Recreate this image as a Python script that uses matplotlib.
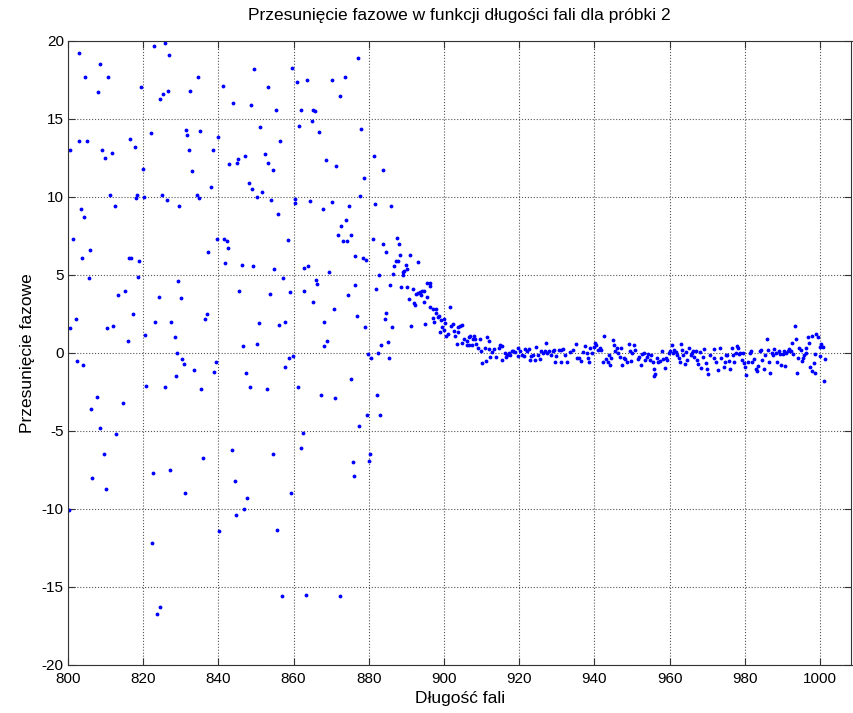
import matplotlib
matplotlib.use("Agg")
import matplotlib.pyplot as plt

# wavelength [nm] and phase shift
wavelength = [
    800.5, 801.2, 802.9, 802.8, 803.4, 804.2, 804.5, 805.0, 805.8, 807.9,
    808.4, 809.0, 809.9, 810.7, 811.3, 811.7, 812.6, 816.5, 817.7, 818.0,
    818.4, 819.4, 820.0, 820.3, 822.2, 823.0, 824.4, 825.3, 825.9, 826.6,
    826.9, 825.1, 826.4, 829.5, 831.4, 831.6, 832.1, 832.4, 833.0, 834.2,
    834.8, 834.5, 835.1, 838.0, 838.5, 839.6, 840.0, 841.1, 841.4, 842.4,
    842.6, 842.9, 843.8, 845.0, 845.3,
    803.6, 805.6, 802.1, 800.4, 802.3, 804.1, 807.7, 806.2, 808.5, 809.6,
    812.8, 814.7, 810.5, 811.9, 813.3, 815.1, 815.9, 817.4, 816.2, 816.7,
    818.9, 818.7, 820.4, 820.8, 823.1, 824.3, 825.7, 827.5, 828.5, 828.8,
    828.9, 829.3, 830.0, 830.2, 830.8, 833.6, 835.3, 835.9, 836.5, 836.9,
    837.2, 838.8, 839.3, 841.7, 843.6, 845.6,
    806.4, 810.0, 800.2, 822.6, 827.2, 831.2, 822.3, 824.6, 823.6, 840.2,
    844.4, 844.6,
    849.5, 848.7, 853.2, 855.2, 859.7, 860.8, 863.6, 861.9, 865.1, 865.7,
    864.8, 870.3, 873.8, 877.2, 872.4, 851.0, 856.4, 861.4, 866.8, 878.0,
    847.1, 852.3, 853.3, 854.4, 848.1, 849.0, 851.6, 850.2, 854.0, 855.9,
    858.5, 860.3, 860.5, 864.4, 867.7, 870.1, 868.6, 871.2, 874.8, 874.0,
    872.7, 871.8, 873.2, 874.1, 875.4, 877.8, 878.7, 881.4, 883.7, 881.6,
    886.0, 881.0, 883.9, 887.6, 888.0,
    846.4, 849.2, 854.8, 857.3, 862.9, 863.9, 869.5, 853.8, 859.0, 862.7,
    865.9, 866.3, 865.2, 870.8, 874.6, 876.3, 876.4, 878.4, 879.2, 876.9,
    879.0, 868.0, 850.8, 856.1, 857.8, 868.8, 868.2, 846.6, 850.4, 859.9,
    858.8, 857.6, 847.3, 848.3, 853.0, 861.2, 867.3, 871.0, 875.2, 879.7,
    880.7, 882.5, 885.4, 883.3, 885.2, 882.2, 883.1, 879.5, 877.5, 862.5,
    862.0, 854.6, 880.4,
    884.5, 888.4, 890.9, 893.2, 887.7, 887.2, 886.8, 889.9, 890.3, 889.4,
    889.1, 889.2, 886.4, 882.8, 885.6, 881.8, 888.6, 890.1, 891.7, 893.0,
    894.1, 894.8, 893.5, 892.6, 893.8, 895.6, 896.2, 896.4, 895.4, 894.6,
    890.8, 892.1, 892.4, 896.3, 884.7, 884.2, 886.3, 891.3, 894.9,
    880.0, 875.7, 876.1, 847.6, 846.7, 859.2, 855.5, 856.8, 863.4, 872.3,
    897.0, 898.0, 897.8, 898.3, 897.1, 898.6, 897.3, 899.2, 900.1, 900.3,
    898.9, 899.6, 899.9, 901.0, 900.5, 901.6, 901.9, 902.5, 902.8, 903.0,
    903.7, 904.3, 904.9, 903.8, 903.4, 904.8, 905.4, 906.0, 906.6, 907.0,
    906.0, 906.7, 907.4, 907.6, 908.2, 908.0, 908.5, 909.6, 909.0, 909.9,
    910.8, 910.0, 911.3, 911.5, 912.0, 912.1, 912.3, 912.8, 913.2, 913.9,
    914.7, 915.0, 915.4, 915.4, 916.3, 916.8, 917.2, 916.6, 917.6, 918.1,
    918.4, 918.9, 919.6, 919.7, 920.3, 920.7, 921.3, 921.6, 922.1, 922.6,
    922.8, 923.2, 923.7, 924.1, 924.6, 925.0, 925.5, 925.9, 926.4, 926.8,
    927.2, 927.5, 927.9, 928.4, 928.9, 929.4, 929.6, 929.9, 930.5, 931.0,
    931.2, 931.6, 932.1, 932.6, 933.4,
    934.4, 935.0, 935.4, 936.0, 936.5, 937.0, 937.6, 938.0, 938.2, 938.7,
    938.9, 939.4, 939.8, 940.1, 940.5, 941.0, 941.5, 941.9, 942.4, 942.7,
    943.0, 943.5, 944.1, 943.9, 944.5, 944.9, 945.2, 945.4, 945.9, 946.3,
    946.8, 947.1, 947.4, 947.8, 948.2, 948.7, 949.1, 949.6, 949.7, 950.1,
    950.5, 950.9, 951.6, 951.9, 952.3, 952.6, 953.2, 953.5, 954.0, 954.4,
    954.8, 955.1, 955.5, 955.8, 956.0, 956.2, 956.7, 957.0, 957.5, 957.9,
    958.3, 958.7, 959.0, 959.4, 959.9, 960.2, 960.6, 960.9, 961.3, 961.6,
    962.0, 962.4, 962.7, 963.1, 963.3, 963.6, 964.0, 964.3, 964.7, 965.1,
    965.6, 965.9, 966.3, 966.6, 967.0, 967.4, 967.7, 968.0, 968.4, 968.8,
    969.3, 969.6, 970.0, 970.3, 970.7,
    971.7, 971.9, 972.4, 973.0, 973.5, 973.8, 974.4, 974.7, 975.1, 975.4,
    975.8, 976.2, 976.5, 976.9, 977.2, 977.6, 977.9, 978.3, 978.5, 978.8,
    979.2, 979.6, 979.9, 980.2, 980.4, 980.9, 981.3, 981.7, 982.0, 982.4,
    982.9, 983.3, 983.6, 984.0, 984.3, 984.7, 985.0, 985.4, 985.8, 986.1,
    986.5, 986.8, 987.2, 987.6, 987.8, 988.3, 988.7, 989.0, 989.4, 989.7,
    990.1, 990.4, 990.8, 991.1, 991.5, 991.9, 992.2, 992.6, 992.9, 993.3,
    993.6, 993.8, 994.2, 994.5, 994.9, 995.2, 995.4, 995.8, 996.2, 996.4,
    996.9, 997.1, 997.4, 997.8, 998.0, 998.3, 998.6, 998.8, 999.0, 999.6,
    999.9, 1000.1, 1000.3, 1000.4, 1000.7, 1001.0, 1001.4,
]

phase_shift = [
    13.0, 7.3, 19.2, 13.6, 9.2, 8.7, 17.7, 13.6, 6.6, 16.75,
    18.5, 13.0, 12.5, 17.7, 10.1, 12.85, 9.4, 13.7, 13.2, 9.95,
    10.1, 17.05, 11.8, 10.0, 14.1, 19.65, 16.3, 16.6, 19.85, 16.8,
    19.1, 10.1, 9.8, 9.45, 14.3, 14.0, 13.0, 16.8, 11.65, 10.1,
    9.95, 17.7, 14.25, 10.65, 13.0, 7.3, 13.85, 17.1, 7.3, 7.2,
    6.7, 12.1, 16.0, 12.2, 12.45,
    6.1, 4.8, 2.2, 1.6, -0.5, -0.8, -2.8, -3.6, -4.8, -6.5,
    -5.2, -3.2, 1.6, 1.7, 3.7, 3.97, 0.8, 2.5, 6.1, 6.1,
    5.9, 4.9, 1.15, -2.1, 2.0, 3.6, -2.2, 2.0, 1.05, -1.45,
    0.0, 4.6, 3.55, -0.4, -0.7, -1.1, -2.3, -6.7, 2.2, 2.5,
    6.5, -1.2, -0.6, 5.8, -6.2, 4.0,
    -8.0, -8.7, -10.05, -7.7, -7.5, -9.0, -12.2, -16.3, -16.7, -11.4,
    -8.2, -10.4,
    18.2, 15.9, 17.05, 15.6, 18.3, 17.35, 17.5, 15.6, 15.6, 15.5,
    14.9, 17.5, 17.7, 18.9, 16.5, 14.5, 13.6, 14.55, 14.15, 14.35,
    12.6, 12.75, 12.15, 11.75, 10.9, 10.5, 10.3, 10.0, 9.8, 8.9,
    7.25, 9.85, 9.6, 9.75, 9.2, 9.7, 12.4, 12.0, 9.45, 8.5,
    8.15, 7.55, 7.2, 7.15, 7.55, 10.05, 11.2, 12.6, 11.7, 9.55,
    9.45, 7.3, 7.0, 7.4, 7.0,
    5.66, 5.55, 5.4, 4.8, 5.45, 5.6, 5.2, 3.8, 3.9, 3.97,
    4.7, 4.4, 3.3, 2.8, 3.7, 4.35, 6.2, 6.1, 5.95, 2.35,
    1.65, 2.0, 1.9, 1.8, 2.0, 0.8, 0.45, 0.45, 0.6, -0.17,
    -0.3, -0.9, -1.3, -2.15, -2.3, -2.2, -2.7, -2.9, -1.65, -0.05,
    -0.3, 0.0, -0.35, 0.5, 0.7, -2.7, -3.95, -4.0, -4.7, -5.1,
    -6.1, -6.5, -6.5,
    6.47, 6.3, 6.26, 5.85, 5.9, 5.88, 5.56, 5.64, 5.38, 5.28,
    5.17, 5.0, 5.09, 4.98, 4.38, 4.08, 4.2, 4.2, 4.08, 3.82,
    3.97, 3.97, 3.91, 3.76, 3.7, 4.47, 4.5, 4.3, 3.6, 3.29,
    3.46, 3.18, 3.08, 2.97, 2.59, 2.16, 1.67, 1.71, 1.86,
    -6.9, -7.0, -7.9, -9.3, -10.0, -9.0, -11.35, -15.6, -15.5, -15.6,
    2.85, 2.8, 2.55, 2.3, 2.25, 2.4, 2.0, 2.1, 2.15, 1.95,
    1.35, 1.65, 1.5, 1.2, 1.1, 2.95, 1.7, 1.85, 1.4, 1.1,
    1.65, 1.7, 1.8, 1.35, 0.55, 0.65, 0.9, 0.75, 1.0, 1.1,
    0.5, 0.5, 0.5, 0.9, 0.9, 1.1, 0.6, 0.9, 0.35, 0.13,
    0.3, -0.65, -0.5, 1.05, 0.75, 0.25, -0.25, 0.05, 0.25, -0.25,
    0.3, 0.5, 0.45, -0.45, 0.0, -0.1, 0.0, -0.25, -0.15, 0.1,
    0.15, 0.05, 0.3, -0.2, 0.15, -0.15, -0.2, 0.25, 0.15, 0.25,
    -0.45, -0.2, -0.1, -0.45, 0.4, -0.1, -0.4, 0.15, 0.0, 0.15,
    0.65, 0.0, 0.15, -0.15, 0.15, 0.2, -0.6, -0.2, 0.2, 0.2,
    -0.55, 0.25, -0.1, -0.55, 0.05,
    0.2, 0.55, -0.3, -0.35, -0.5, 0.05, 0.45, 0.0, -0.35, -0.6,
    0.3, 0.0, 0.4, 0.65, 0.5, 0.2, 0.3, 0.2, -0.6, 1.1,
    -0.4, -0.6, -0.75, -0.1, -0.3, 0.85, 0.5, 0.1, 0.3, 0.0,
    -0.25, 0.3, -0.8, -0.3, -0.4, -0.55, 0.55, 0.1, -0.5, 0.0,
    0.5, 0.2, -0.4, -0.25, -0.8, -0.05, 0.0, -0.45, -0.25, -0.05,
    -0.45, -0.1, -0.6, -1.0, -1.5, -1.35, -0.3, -0.55, -0.5, 0.1,
    -0.4, -0.95, -0.3, -0.45, 0.0, 0.15, 0.5, 0.0, 0.2, 0.05,
    -0.15, -0.3, -0.55, 0.6, 0.2, -0.15, -0.7, 0.05, -0.45, 0.3,
    -0.15, 0.0, 0.1, -0.25, 0.1, -0.45, -0.7, 0.05, -0.95, -0.25,
    0.25, -0.65, -1.0, -1.35, -0.15,
    0.25, -0.3, -0.6, -1.1, 0.35, -0.3, -0.9, -0.55, -0.15, -0.1,
    -0.5, -1.0, 0.35, -0.1, -0.55, 0.0, 0.45, 0.3, -0.05, 0.0,
    -0.45, 0.0, -0.65, -0.9, -1.4, -0.55, 0.0, 0.1, -0.6, -0.4,
    -1.05, -1.15, -0.85, 0.15, 0.2, -0.45, -1.0, -0.15, 0.9, 0.2,
    -0.6, -1.25, 0.0, -0.15, 0.25, 0.0, -0.6, 0.1, -0.05, -0.8,
    -0.05, 0.1, -0.85, 0.0, 0.15, 0.25, 0.1, 0.65, -0.05, 1.75,
    0.9, -1.3, -0.3, 0.35, 0.2, -0.5, -0.3, -0.15, 0.0, 0.35,
    1.0, 0.65, -0.9, -1.15, 1.1, -0.65, -1.25, -0.05, 1.25, 1.05,
    -0.2, 0.4, 0.6, 0.45, 0.4, -1.8, -0.4,
]

plt.rcParams['font.family'] = ['Liberation Sans', 'DejaVu Sans']
plt.rcParams['font.size'] = 11
plt.rcParams['axes.unicode_minus'] = False

fig = plt.figure(figsize=(8.54, 7.13), dpi=100)
ax = fig.add_axes([68 / 854, 48 / 713, (851.5 - 68) / 854, 624 / 713])

ax.plot(wavelength, phase_shift, '.', color='#0000ff', markersize=3.5)

ax.set_xlim(800, 1008.4)
ax.set_ylim(-20, 20)
ax.set_xticks(range(800, 1001, 20))
ax.set_yticks(range(-20, 21, 5))
ax.grid(True, linestyle=':', color='#555555', linewidth=0.8)
ax.tick_params(axis='both', direction='in', top=True, right=True, length=5, width=0.8,
               colors='#333333', labelcolor='black')
ax.tick_params(axis='x', pad=5)
ax.tick_params(axis='y', pad=3)
for s in ax.spines.values():
    s.set_linewidth(0.8)
    s.set_color('#333333')

ax.set_title('Przesunięcie fazowe w funkcji długości fali dla próbki 2', fontsize=12.5, pad=15)
ax.set_xlabel('Długość fali', fontsize=12.5, labelpad=4)
ax.set_ylabel('Przesunięcie fazowe', fontsize=12.5, labelpad=5)

fig.savefig('out.png', dpi=100)
